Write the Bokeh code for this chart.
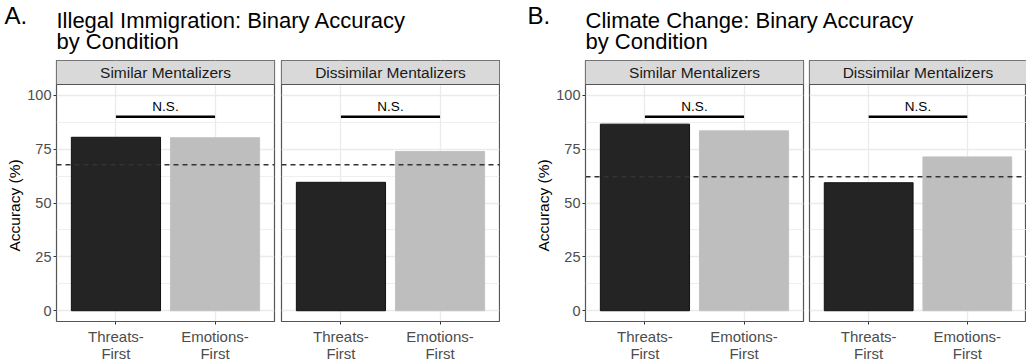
from bokeh.plotting import figure
from bokeh.layouts import column, row
from bokeh.models import Range1d, FixedTicker, Span, Label, Title, ColumnDataSource
from bokeh.embed import file_html
from bokeh.resources import INLINE

# ---------------- data ----------------
conditions = ["Threats-First", "Emotions-First"]
tick_labels = ["Threats-\nFirst", "Emotions-\nFirst"]
facets = ["Similar Mentalizers", "Dissimilar Mentalizers"]
panel_letters = ["A.", "B."]
panel_title_lines = [["Illegal Immigration: Binary Accuracy", "by Condition"],
                     ["Climate Change: Binary Accuracy", "by Condition"]]
immigration_similar = [80.5, 80.3]
immigration_dissimilar = [59.6, 73.9]
climate_similar = [86.6, 83.5]
climate_dissimilar = [59.4, 71.4]
immigration_chance = 67.7
climate_chance = 62.2
sig_label = "N.S."
sig_level = 90
y_ticks = [0, 25, 50, 75, 100]
y_minor = [12.5, 37.5, 62.5, 87.5]
y_title = "Accuracy (%)"

# ---------------- style ----------------
FONT = "Liberation Sans"
bar_fill = ["#242424", "#bebebe"]
bar_line = ["#111111", "#c2c2c2"]
border_col = "#555555"
grid_col = "#ebebeb"
FRAME_H = 261
PANEL_PX = 237
STRIP_UNITS = 24 / (PANEL_PX / 110.0)


def facet(values, chance, facet_name, left_border, frame_w, right_border, show_y):
    p = figure(frame_width=frame_w, frame_height=FRAME_H,
               min_border_left=left_border, min_border_right=right_border,
               min_border_top=1, min_border_bottom=42,
               x_range=Range1d(0.4, 2.6), y_range=Range1d(-5, 105 + STRIP_UNITS),
               toolbar_location=None, output_backend="svg",
               y_axis_location="left" if show_y else None)
    p.background_fill_color = "white"
    p.border_fill_color = "white"
    p.outline_line_color = border_col
    p.outline_line_width = 1.2

    xs = list(range(1, len(conditions) + 1))
    src = ColumnDataSource(dict(x=xs, top=values, fill=bar_fill, line=bar_line, cond=conditions))
    p.vbar(x="x", top="top", bottom=0, width=0.9, fill_color="fill", line_color="line",
           line_width=1, source=src)

    # chance line
    p.add_layout(Span(location=chance, dimension="width", line_color="#333333",
                      line_dash="5 4", line_width=1.5))

    # significance bracket
    p.segment(x0=[xs[0]], x1=[xs[1]], y0=[sig_level], y1=[sig_level],
              line_color="black", line_width=2.5)
    p.add_layout(Label(x=(xs[0] + xs[1]) / 2, y=sig_level + 4.7, text=sig_label,
                       text_align="center", text_baseline="middle",
                       text_font=FONT, text_font_size="13.5px", text_color="black"))

    # strip
    p.quad(left=0.4, right=2.6, bottom=105, top=105 + STRIP_UNITS,
           fill_color="#d9d9d9", line_color=None)
    p.add_layout(Span(location=105, dimension="width", line_color=border_col, line_width=1.2))
    p.add_layout(Label(x=1.5, y=105 + STRIP_UNITS / 2, text=facet_name,
                       text_align="center", text_baseline="middle",
                       text_font=FONT, text_font_size="15.5px", text_color="#1a1a1a"))

    # grids
    p.xgrid.ticker = FixedTicker(ticks=xs)
    p.xgrid.grid_line_color = grid_col
    p.xgrid.grid_line_width = 1.3
    p.ygrid.ticker = FixedTicker(ticks=y_ticks, minor_ticks=y_minor)
    p.ygrid.grid_line_color = grid_col
    p.ygrid.grid_line_width = 1.3
    p.ygrid.minor_grid_line_color = grid_col
    p.ygrid.minor_grid_line_width = 0.8

    # x axis
    xa = p.xaxis[0]
    xa.ticker = FixedTicker(ticks=xs)
    xa.major_label_overrides = {x: lab for x, lab in zip(xs, tick_labels)}
    xa.axis_line_color = None
    xa.major_tick_line_color = "#333333"
    xa.major_tick_out = 3
    xa.major_tick_in = 0
    xa.minor_tick_line_color = None
    xa.major_label_text_font = FONT
    xa.major_label_text_font_size = "15px"
    xa.major_label_text_color = "#4d4d4d"
    xa.major_label_text_line_height = 1.0
    xa.major_label_standoff = 3

    if show_y:
        ya = p.yaxis[0]
        ya.ticker = FixedTicker(ticks=y_ticks)
        ya.axis_line_color = None
        ya.major_tick_line_color = "#333333"
        ya.major_tick_out = 3
        ya.major_tick_in = 0
        ya.minor_tick_line_color = None
        ya.major_label_text_font = FONT
        ya.major_label_text_font_size = "14.5px"
        ya.major_label_text_color = "#4d4d4d"
        ya.major_label_standoff = 2
        p.add_layout(Title(text=y_title, align="left", offset=70, standoff=4,
                           text_font=FONT, text_font_size="15.5px",
                           text_font_style="normal", text_color="black"), "left")
    return p


a1 = facet(immigration_similar, immigration_chance, facets[0], 56, 218, 3, True)
a2 = facet(immigration_dissimilar, immigration_chance, facets[1], 4, 218, 1, False)
b1 = facet(climate_similar, climate_chance, facets[0], 85, 218, 3, True)
b2 = facet(climate_dissimilar, climate_chance, facets[1], 3, 217, 0, False)

# title strip
tf = figure(width=1026, height=59, x_range=Range1d(0, 1026), y_range=Range1d(59, 0),
            toolbar_location=None, output_backend="svg", min_border=0,
            x_axis_location=None, y_axis_location=None)
tf.outline_line_color = None
tf.grid.visible = False
for letter, lines, lx, tx in zip(panel_letters, panel_title_lines, [4, 527], [56, 585]):
    tf.add_layout(Label(x=lx, y=15, text=letter, text_font=FONT, text_font_size="24px",
                        text_baseline="middle", text_color="black"))
    for k, line in enumerate(lines):
        tf.add_layout(Label(x=tx, y=20 + 20.8 * k, text=line, text_font=FONT,
                            text_font_size="22px", text_baseline="middle",
                            text_color="black"))

layout = column(tf, row(a1, a2, b1, b2, spacing=0), spacing=0)
open("out.html", "w").write(file_html(layout, INLINE))
